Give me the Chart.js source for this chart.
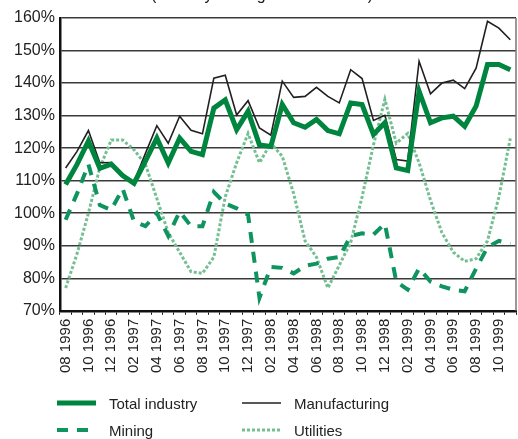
<!DOCTYPE html>
<html>
<head>
<meta charset="utf-8">
<script src="https://cdn.jsdelivr.net/npm/chart.js@4/dist/chart.umd.min.js"></script>
<style>
  html, body { margin: 0; padding: 0; background: #fff; }
  #wrap { position: relative; width: 518px; height: 439px; overflow: hidden; }
  #legend {
    position: absolute; left: 57px; top: 394px;
    display: grid; grid-template-columns: 185px 185px; row-gap: 9px;
    font: 15px "Liberation Sans", Arial, sans-serif; color: #222;
  }
  .item { display: flex; align-items: center; height: 18px; }
  .item svg { margin-right: 13px; }
</style>
</head>
<body>
<div id="wrap">
  <canvas id="chart" width="518" height="439"></canvas>
  <div id="legend"></div>
</div>
<script>
const titleText = "(Monthly averages 1995 = 100)";

const months = [
    "08 1996", "09 1996", "10 1996", "11 1996", "12 1996",
    "01 1997", "02 1997", "03 1997", "04 1997", "05 1997", "06 1997", "07 1997",
    "08 1997", "09 1997", "10 1997", "11 1997", "12 1997",
    "01 1998", "02 1998", "03 1998", "04 1998", "05 1998", "06 1998", "07 1998",
    "08 1998", "09 1998", "10 1998", "11 1998", "12 1998",
    "01 1999", "02 1999", "03 1999", "04 1999", "05 1999", "06 1999", "07 1999",
    "08 1999", "09 1999", "10 1999", "11 1999",
];

const totalIndustry = [
    108.8, 115, 122.2, 113.8, 115.1, 111.6, 109.2, 116, 123.1, 115.4,
    123.1, 119, 118, 132.3, 134.8, 125.7, 131.3, 121, 120.5, 133.4,
    127.8, 126.4, 128.8, 125.4, 124.4, 133.9, 133.4, 124.2, 127.8, 113.9,
    113.1, 137.5, 127.8, 129.3, 129.8, 126.7, 132.9, 145.7, 145.7, 144.1,
];

const manufacturing = [
    113.9, 119, 125.4, 115.5, 115.6, 111.8, 109.7, 118.4, 126.9, 121.5,
    129.8, 125.5, 124.4, 141.5, 142.4, 130.2, 134.6, 126.2, 124, 140.6,
    135.6, 135.9, 138.7, 135.9, 133.9, 144.1, 141.4, 128.5, 130.1, 116.5,
    116, 146.7, 136.7, 140, 140.9, 138.3, 144.6, 159, 156.9, 153.3,
];

const mining = [
    98, 106, 115, 102.5, 101, 107.5, 97.5, 96, 100, 93,
    100.5, 96, 96, 106.5, 103, 101.5, 99.5, 74, 83.5, 83.2,
    81.5, 83.8, 84.5, 86, 86.5, 93, 93.8, 93.4, 96.8, 79,
    76.5, 83, 79, 77.5, 76.5, 76, 83, 89.5, 91.5, 90.5,
];

const utilities = [
    77, 87.5, 100, 114, 122.5, 122.5, 119.5, 115, 104.5, 94,
    88, 82, 81.5, 86.5, 105, 115.5, 124.5, 115.5, 121.5, 117.5,
    106, 91.5, 86.5, 77, 84, 91, 105, 121, 135, 121.5,
    124.5, 115.5, 104, 94, 88, 85.2, 86, 91.5, 105, 123,
];

const yTicks = { min: 70, max: 160, step: 10 };

const font = "Liberation Sans";
const textColor = "#222";

const datasets = [
    { label: "Total industry", data: totalIndustry, borderColor: "#00853f", borderWidth: 5, borderDash: [] },
    { label: "Manufacturing", data: manufacturing, borderColor: "#231f20", borderWidth: 1.6, borderDash: [] },
    { label: "Mining", data: mining, borderColor: "#0f9460", borderWidth: 4, borderDash: [11, 9] },
    { label: "Utilities", data: utilities, borderColor: "#74bf92", borderWidth: 3, borderDash: [3, 2] },
];

// title sits mostly above the picture, only its descenders show
const cutTitle = {
    id: "cutTitle",
    afterDraw(chart) {
        const ctx = chart.ctx;
        ctx.save();
        ctx.font = "16px '" + font + "'";
        ctx.fillStyle = textColor;
        ctx.textAlign = "center";
        ctx.textBaseline = "alphabetic";
        ctx.fillText(titleText, 262, 0);
        ctx.restore();
    },
};

// thin frame line on the right of the plot
const rightFrame = {
    id: "rightFrame",
    afterDraw(chart) {
        const { ctx, chartArea } = chart;
        ctx.save();
        ctx.strokeStyle = "#777";
        ctx.lineWidth = 1.5;
        ctx.beginPath();
        ctx.moveTo(chartArea.right, chartArea.top);
        ctx.lineTo(chartArea.right, chartArea.bottom);
        ctx.stroke();
        ctx.restore();
    },
};

const chart = new Chart(document.getElementById("chart"), {
    type: "line",
    data: {
        labels: months,
        datasets: datasets.map((d) => ({
            ...d,
            backgroundColor: d.borderColor,
            pointRadius: 0,
            tension: 0,
            fill: false,
        })),
    },
    options: {
        responsive: false,
        animation: false,
        layout: { padding: { top: 18, left: 9, right: 2, bottom: 62 } },
        plugins: {
            legend: { display: false },
            tooltip: { enabled: false },
        },
        scales: {
            x: {
                offset: true,
                // last (blank) label should not push the plot in from the right
                afterFit: (scale) => { scale.paddingRight = 0; },
                grid: {
                    offset: true,
                    drawOnChartArea: false,
                    drawTicks: true,
                    tickLength: 4,
                    color: "#111",
                    lineWidth: 1,
                },
                border: { color: "#111", width: 2.5 },
                ticks: {
                    autoSkip: false,
                    minRotation: 90,
                    maxRotation: 90,
                    padding: 4,
                    color: textColor,
                    font: { family: font, size: 15 },
                    callback: function (value, index) {
                        return index % 2 === 0 ? this.getLabelForValue(value) : "";
                    },
                },
            },
            y: {
                min: yTicks.min,
                max: yTicks.max,
                grid: { color: "#3a3a3a", lineWidth: 1.4, drawTicks: false },
                border: { color: "#111", width: 2.5 },
                ticks: {
                    stepSize: yTicks.step,
                    padding: 5,
                    color: textColor,
                    font: { family: font, size: 16 },
                    callback: (v) => v + "%",
                },
            },
        },
    },
    plugins: [cutTitle, rightFrame],
});

// legend in two fixed columns, built from the dataset definitions
const legend = document.getElementById("legend");
datasets.forEach((d) => {
    const item = document.createElement("div");
    item.className = "item";
    const ns = "http://www.w3.org/2000/svg";
    const svg = document.createElementNS(ns, "svg");
    svg.setAttribute("width", "39");
    svg.setAttribute("height", "10");
    const line = document.createElementNS(ns, "line");
    line.setAttribute("x1", "0");
    line.setAttribute("x2", "39");
    line.setAttribute("y1", "5");
    line.setAttribute("y2", "5");
    line.setAttribute("stroke", d.borderColor);
    line.setAttribute("stroke-width", d.borderWidth);
    if (d.borderDash.length) line.setAttribute("stroke-dasharray", d.borderDash.join(" "));
    svg.appendChild(line);
    const text = document.createElement("span");
    text.textContent = d.label;
    item.appendChild(svg);
    item.appendChild(text);
    legend.appendChild(item);
});
</script>
</body>
</html>
